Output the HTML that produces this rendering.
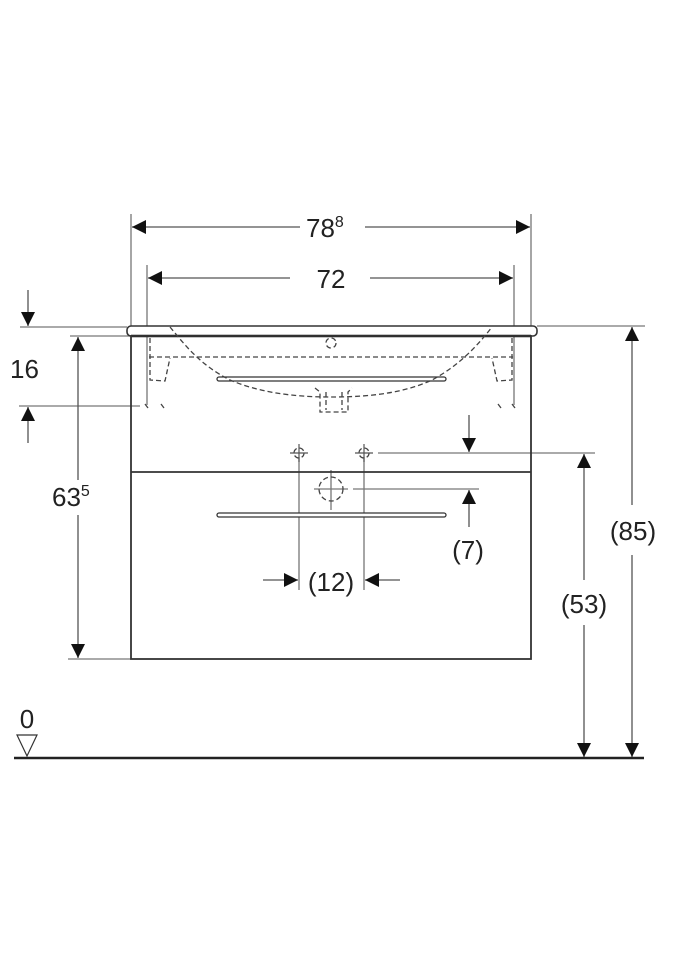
<!DOCTYPE html>
<html><head><style>
html,body{margin:0;padding:0;background:#fff;}
svg{display:block;}
text{font-family:"Liberation Sans",Arial,sans-serif;fill:#222;}
</style></head><body>
<svg width="675" height="960" viewBox="0 0 675 960" xmlns="http://www.w3.org/2000/svg">
<defs>
<marker id="a" viewBox="0 0 10 10" refX="10" refY="5" markerWidth="14" markerHeight="14" markerUnits="userSpaceOnUse" orient="auto"><path d="M0,0L10,5L0,10z" fill="#111"/></marker>
</defs>
<g stroke="#777" stroke-width="1.3" fill="none">
<line x1="131" y1="214" x2="131" y2="326"/>
<line x1="531" y1="214" x2="531" y2="326"/>
<line x1="147" y1="265" x2="147" y2="405"/>
<line x1="514" y1="265" x2="514" y2="405"/>
<line x1="20" y1="327" x2="127" y2="327"/>
<line x1="70" y1="336" x2="131" y2="336"/>
<line x1="19" y1="406" x2="140" y2="406"/>
<line x1="68" y1="659" x2="131" y2="659"/>
<line x1="537" y1="326" x2="645" y2="326"/>
<line x1="378" y1="453" x2="595" y2="453"/>
<line x1="353" y1="489" x2="479" y2="489"/>
<line x1="299" y1="457" x2="299" y2="590"/>
<line x1="364" y1="457" x2="364" y2="590"/>
<line x1="331" y1="470" x2="331" y2="510"/>
<line x1="314" y1="489" x2="348" y2="489"/>
</g>
<g stroke="#555" stroke-width="1.3" fill="none">
<line x1="300" y1="227" x2="132" y2="227" marker-end="url(#a)"/>
<line x1="365" y1="227" x2="530" y2="227" marker-end="url(#a)"/>
<line x1="290" y1="278" x2="148" y2="278" marker-end="url(#a)"/>
<line x1="370" y1="278" x2="513" y2="278" marker-end="url(#a)"/>
<line x1="28" y1="290" x2="28" y2="326" marker-end="url(#a)"/>
<line x1="28" y1="443" x2="28" y2="407" marker-end="url(#a)"/>
<line x1="78" y1="480" x2="78" y2="337" marker-end="url(#a)"/>
<line x1="78" y1="515" x2="78" y2="658" marker-end="url(#a)"/>
<line x1="632" y1="505" x2="632" y2="327" marker-end="url(#a)"/>
<line x1="632" y1="555" x2="632" y2="757" marker-end="url(#a)"/>
<line x1="584" y1="580" x2="584" y2="454" marker-end="url(#a)"/>
<line x1="584" y1="625" x2="584" y2="757" marker-end="url(#a)"/>
<line x1="469" y1="415" x2="469" y2="452" marker-end="url(#a)"/>
<line x1="469" y1="527" x2="469" y2="490" marker-end="url(#a)"/>
<line x1="263" y1="580" x2="298" y2="580" marker-end="url(#a)"/>
<line x1="400" y1="580" x2="365" y2="580" marker-end="url(#a)"/>
</g>
<rect x="127" y="326" width="410" height="10" rx="4" fill="#fff" stroke="#333" stroke-width="1.6"/>
<line x1="131" y1="336" x2="531" y2="336" stroke="#111" stroke-width="2.5"/>
<rect x="131" y="336" width="400" height="323" fill="none" stroke="#333" stroke-width="1.8"/>
<line x1="131" y1="472" x2="531" y2="472" stroke="#333" stroke-width="1.8"/>
<rect x="217" y="377" width="229" height="4" rx="2" fill="#fff" stroke="#333" stroke-width="1.3"/>
<rect x="217" y="513" width="229" height="4" rx="2" fill="#fff" stroke="#333" stroke-width="1.3"/>
<g stroke="#444" stroke-width="1.3" fill="none" stroke-dasharray="5,3">
<line x1="149" y1="357" x2="513" y2="357"/>
<path d="M170,327 C185,345 200,365 230,380 C265,395 305,397 331,397 C360,397 400,395 432,380 C460,365 478,345 492,327"/>
<path d="M150,338 L150,380 L165,381 L170,358"/>
<path d="M512,338 L512,380 L497,381 L492,358"/>
<path d="M315,388 L320,392 L320,412 L348,412 L348,392 L352,388"/>
<path d="M326,392 L326,410 M342,392 L342,410"/>
<circle cx="331" cy="343" r="5"/>
<circle cx="299" cy="453" r="5"/>
<circle cx="364" cy="453" r="5"/>
<circle cx="331" cy="489" r="12"/>
<path d="M145,404 l3,4 M161,404 l3,4 M498,404 l3,4 M512,404 l3,4"/>
</g>
<g stroke="#555" stroke-width="1.2">
<line x1="290" y1="453" x2="308" y2="453"/><line x1="299" y1="444" x2="299" y2="462"/>
<line x1="355" y1="453" x2="373" y2="453"/><line x1="364" y1="444" x2="364" y2="462"/>
</g>
<line x1="14" y1="758" x2="644" y2="758" stroke="#222" stroke-width="2.5"/>
<path d="M17,735 L37,735 L27,756 Z" fill="#fff" stroke="#333" stroke-width="1.2"/>
<g font-size="26">
<text x="306" y="237">78<tspan font-size="16" dy="-10">8</tspan></text>
<text x="331" y="288" text-anchor="middle">72</text>
<text x="10" y="378">16</text>
<rect x="48" y="480" width="60" height="35" fill="#fff"/>
<text x="52" y="506">63<tspan font-size="16" dy="-10">5</tspan></text>
<text x="633" y="540" text-anchor="middle">(85)</text>
<text x="584" y="613" text-anchor="middle">(53)</text>
<text x="468" y="559" text-anchor="middle">(7)</text>
<text x="331" y="591" text-anchor="middle">(12)</text>
<text x="27" y="728" text-anchor="middle">0</text>
</g>
</svg>
</body></html>
